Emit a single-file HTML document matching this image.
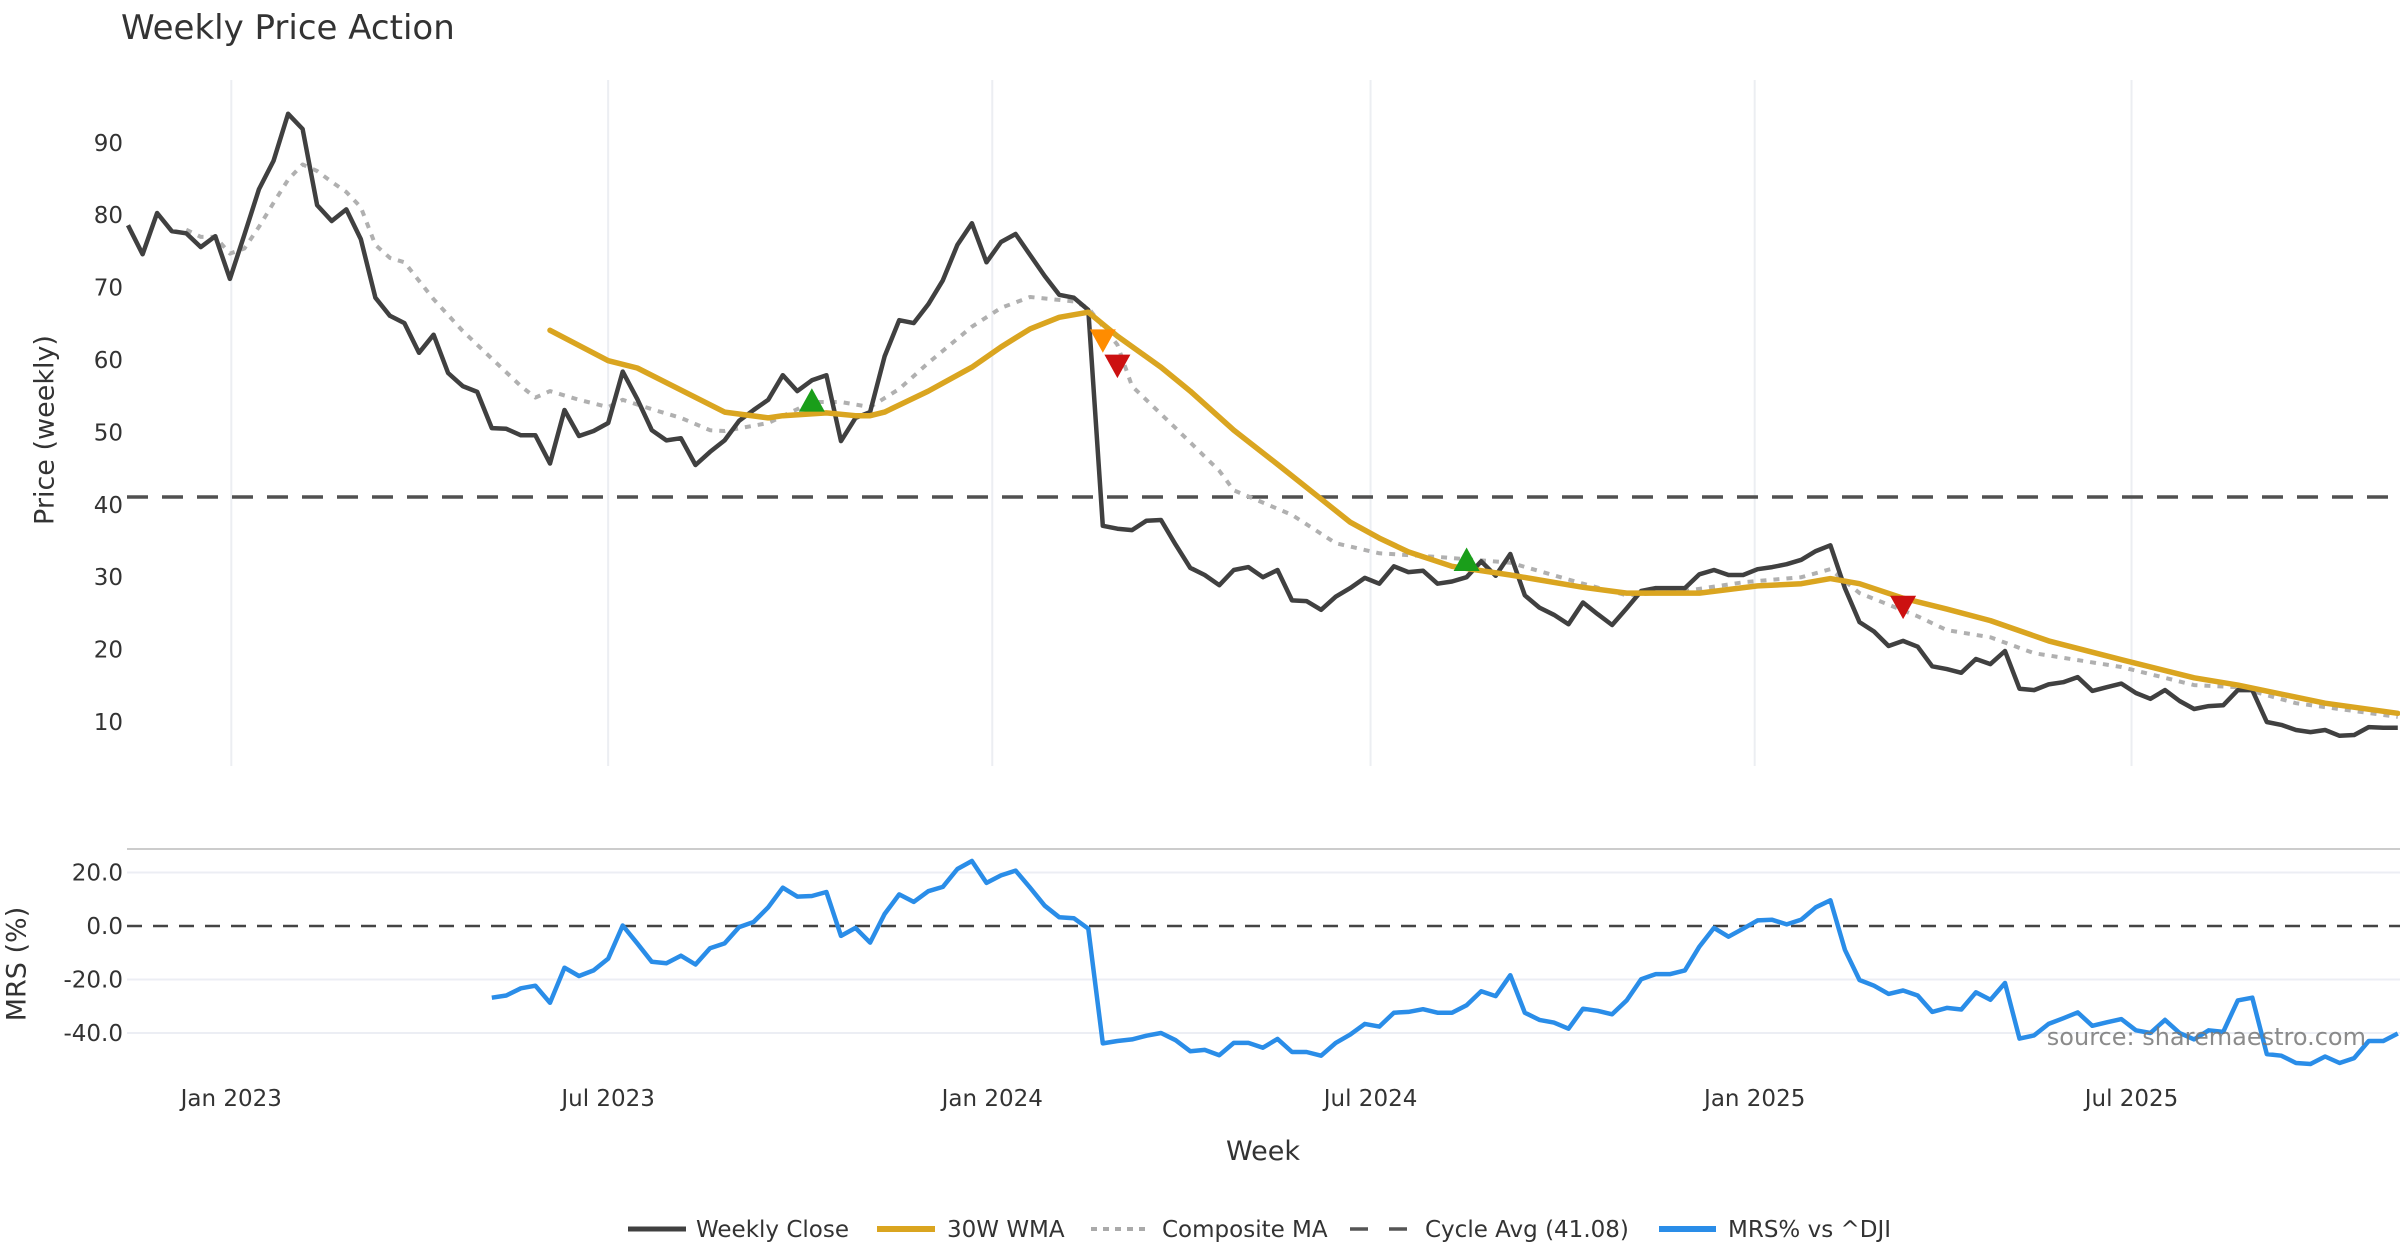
<!DOCTYPE html>
<html><head><meta charset="utf-8"><style>
html,body{margin:0;padding:0;background:#fff;}
svg{display:block;font-family:"DejaVu Sans","Liberation Sans",sans-serif;}
</style></head><body>
<svg id="chart" width="2400" height="1260" viewBox="0 0 2400 1260" xmlns="http://www.w3.org/2000/svg">
<rect x="0" y="0" width="2400" height="1260" fill="#fff"/>
<text x="121" y="39" font-size="34" fill="#333">Weekly Price Action</text>
<g id="grid"></g>
<g id="price"></g>
<g id="mrs"></g>
<g id="axes"></g>
<text x="46" y="430" font-size="27" fill="#333" text-anchor="middle" dominant-baseline="middle" transform="rotate(-90 46 430)">Price (weekly)</text>
<text x="18" y="964" font-size="27" fill="#333" text-anchor="middle" dominant-baseline="middle" transform="rotate(-90 18 964)">MRS (%)</text>
<text x="1263" y="1160" font-size="27" fill="#333" text-anchor="middle">Week</text>
<text x="2366" y="1045" font-size="24" fill="#777" fill-opacity="0.85" text-anchor="end">source: sharemaestro.com</text>
<g id="legend" font-size="23" fill="#333">
  <g><line x1="628" y1="1229" x2="686" y2="1229" stroke="#404040" stroke-width="5"/><text x="696" y="1237">Weekly Close</text></g>
  <g><line x1="877" y1="1229" x2="935" y2="1229" stroke="#DAA520" stroke-width="6"/><text x="947" y="1237">30W WMA</text></g>
  <g><line x1="1091" y1="1229" x2="1148" y2="1229" stroke="#aaa" stroke-width="4" stroke-dasharray="6,6"/><text x="1162" y="1237">Composite MA</text></g>
  <g><line x1="1350" y1="1229" x2="1407" y2="1229" stroke="#555" stroke-width="3.5" stroke-dasharray="18,21"/><text x="1425" y="1237">Cycle Avg (41.08)</text></g>
  <g><line x1="1659" y1="1229" x2="1716" y2="1229" stroke="#2a8de8" stroke-width="6"/><text x="1728" y="1237">MRS% vs ^DJI</text></g>
</g>
</svg>
<script>
const closeValues=[78.6,74.6,80.3,77.8,77.5,75.6,77.1,71.2,77.3,83.6,87.5,94,91.9,81.4,79.2,80.8,76.7,68.6,66.1,65.1,61,63.5,58.2,56.4,55.6,50.6,50.5,49.6,49.6,45.7,53.1,49.5,50.2,51.3,58.4,54.6,50.3,48.9,49.2,45.5,47.3,48.9,51.6,53.1,54.5,57.9,55.7,57.2,57.9,48.8,52,52.8,60.5,65.5,65.1,67.7,71,75.9,78.9,73.5,76.3,77.4,74.5,71.6,69,68.6,66.9,37.1,36.7,36.5,37.8,37.9,34.5,31.3,30.3,28.9,31,31.4,30,31,26.8,26.7,25.5,27.3,28.5,29.9,29.1,31.5,30.7,30.9,29.1,29.4,30,32.2,30.2,33.2,27.5,25.8,24.8,23.5,26.5,24.9,23.4,25.7,28.1,28.5,28.5,28.5,30.4,31,30.3,30.3,31.1,31.4,31.8,32.4,33.6,34.4,28.5,23.8,22.5,20.5,21.2,20.4,17.7,17.3,16.8,18.7,18,19.8,14.6,14.4,15.2,15.5,16.2,14.3,14.8,15.3,14,13.2,14.4,12.9,11.8,12.2,12.3,14.4,14.4,10,9.6,8.9,8.6,8.9,8.1,8.2,9.3,9.2,9.2];
const wmaWeeks=[29,33,35,41,44,45,48,50,51,52,55,58,60,62,64,66,68,71,73,76,79,82,84,86,88,91,95,100,103,108,112,115,117,119,122,125,128,132,137,142,145,151,156];
const wmaValues=[64.1,59.9,58.9,52.8,52,52.3,52.7,52.3,52.3,52.8,55.7,59,61.8,64.3,65.9,66.6,63.3,59,55.7,50.3,45.6,40.8,37.6,35.4,33.5,31.5,30.3,28.6,27.8,27.8,28.8,29.1,29.8,29.1,27.1,25.6,24,21.2,18.6,16.1,15.1,12.6,11.2];
const compWeeks=[4,5,6,7,8,9,10,11,12,13,14,15,16,17,18,19,21,23,25,27,28,29,31,33,34,36,38,40,41,44,46,47,49,51,53,55,58,60,62,65,66,68,69,72,75,76,80,83,86,90,95,100,103,107,111,115,117,119,123,125,128,131,137,142,145,149,156];
const compValues=[78,77,77,74.7,75.4,78.4,81.7,84.9,87,86.1,84.6,83.2,81.1,75.9,74.1,73.5,68.4,64,60.2,56.4,54.8,55.7,54.5,53.5,54.5,53.2,52,50.3,50.2,51.3,53.2,54.2,54.2,53.5,56,59.6,64.6,67.2,68.7,68.1,67.2,62.1,56.4,50.6,44.7,42,38.6,34.7,33.3,32.8,32,29.1,27.5,28.1,29.3,30,31.1,27.8,24.6,22.7,21.7,19.5,17.6,15.1,14.8,12.6,10.7];
const mrsStart=25;
const mrsValues=[-26.8,-26,-23.3,-22.3,-28.7,-15.6,-18.7,-16.6,-12.2,0.2,-6.5,-13.4,-13.9,-11.1,-14.4,-8.3,-6.5,-0.4,1.5,7,14.3,11,11.2,12.7,-3.7,-0.7,-6.2,4.5,11.8,9,13,14.6,21.3,24.3,16.1,18.9,20.7,14.3,7.6,3.3,2.9,-1,-43.9,-43,-42.4,-41,-40,-42.7,-46.8,-46.3,-48.3,-43.7,-43.7,-45.5,-42.2,-47.1,-47.1,-48.5,-43.7,-40.6,-36.6,-37.6,-32.4,-32.1,-31.1,-32.4,-32.4,-29.6,-24.4,-26.2,-18.4,-32.4,-35.1,-36.1,-38.4,-30.9,-31.7,-33,-27.8,-19.9,-18,-18,-16.6,-7.7,-0.7,-4,-1,2.1,2.3,0.6,2.4,7,9.6,-8.9,-20.2,-22.3,-25.4,-24.1,-26,-32.1,-30.6,-31.2,-24.8,-27.6,-21.3,-42.1,-40.9,-36.6,-34.5,-32.3,-37.3,-36,-34.8,-39,-40,-35.1,-40,-42.4,-39,-39.6,-27.8,-26.8,-47.9,-48.5,-51.2,-51.6,-48.8,-51.2,-49.4,-43,-43,-40.2];
const buyWeeks=[47,92];
const buyValues=[54.3,32.3];
const warnWeeks=[67];
const warnValues=[62.8];
const sellWeeks=[68,122];
const sellValues=[59.3,26];
const cycleAvg=41.08;
const priceTicks=[10,20,30,40,50,60,70,80,90];
const mrsTicks=[20,0,-20,-40];
const mrsTickLabels=["20.0","0.0","-20.0","-40.0"];
const dateTickLabels=["Jan 2023","Jul 2023","Jan 2024","Jul 2024","Jan 2025","Jul 2025"];
const dateTickWeeks=[7.1,33,59.4,85.4,111.8,137.7];

const NS="http://www.w3.org/2000/svg";
const X0=128,DX=14.55;
function xs(i){return X0+i*DX;}
function yp(v){return 722-(v-10)*7.24;}
function ym(v){return 926-v*2.675;}
function mk(tag,attrs,parent){const e=document.createElementNS(NS,tag);for(const k in attrs)e.setAttribute(k,attrs[k]);parent.appendChild(e);return e;}
const grid=document.getElementById('grid'),price=document.getElementById('price'),mrs=document.getElementById('mrs'),axes=document.getElementById('axes');

dateTickWeeks.forEach((w,k)=>{
  const l=mk('line',{x1:xs(w),x2:xs(w),y1:80,y2:766,stroke:'#eceef2','stroke-width':2},grid);
  
  
  const t=mk('text',{x:xs(w),y:1106,'font-size':23,fill:'#333','text-anchor':'middle'},axes);
  t.textContent=dateTickLabels[k];
  
  
});
priceTicks.forEach(v=>{
  const t=mk('text',{x:123,y:yp(v)+8,'font-size':23,fill:'#333','text-anchor':'end'},axes);
  t.textContent=String(v);
  
  
});
const sep=mk('line',{x1:127,x2:2400,y1:849,y2:849,stroke:'#ccc','stroke-width':2},grid);


mrsTicks.forEach((v,k)=>{
  if(v!==0){const g=mk('line',{x1:127,x2:2400,y1:ym(v),y2:ym(v),stroke:'#eceef4','stroke-width':2},grid);
  
  }
  const t=mk('text',{x:123,y:ym(v)+8,'font-size':23,fill:'#333','text-anchor':'end'},axes);
  t.textContent=mrsTickLabels[k];
  
  
});
function poly(pts,style,parent,name){
  const p=mk('polyline',Object.assign({points:pts.map(q=>q[0].toFixed(1)+','+q[1].toFixed(1)).join(' '),fill:'none','stroke-linejoin':'round'},style),parent);
  
  
  return p;
}
const ca=mk('line',{x1:127,x2:2400,y1:yp(cycleAvg),y2:yp(cycleAvg),stroke:'#505050','stroke-width':3.5,'stroke-dasharray':'21,14'},price);


poly(compWeeks.map((w,k)=>[xs(w),yp(compValues[k])]),{stroke:'#b0b0b0','stroke-width':4,'stroke-dasharray':'6,7'},price,'composite-ma-line');
poly(closeValues.map((v,i)=>[xs(i),yp(v)]),{stroke:'#404040','stroke-width':4.5},price,'weekly-close-line');
poly(wmaWeeks.map((w,k)=>[xs(w),yp(wmaValues[k])]),{stroke:'#DAA520','stroke-width':5.5,'stroke-linecap':'round'},price,'wma-30w-line');
function tri(w,v,up,color,name){
  const x=xs(w),y=yp(v),s=13;
  const pts=up?[[x-s,y+s*0.8],[x+s,y+s*0.8],[x,y-s*1.0]]:[[x-s,y-s*0.8],[x+s,y-s*0.8],[x,y+s*1.0]];
  const p=mk('polygon',{points:pts.map(q=>q.join(',')).join(' '),fill:color},price);
  
  
}
buyWeeks.forEach((w,k)=>tri(w,buyValues[k],true,'#1a9e1a','buy-signal-marker'));
warnWeeks.forEach((w,k)=>tri(w,warnValues[k],false,'#ff8c00','warning-signal-marker'));
sellWeeks.forEach((w,k)=>tri(w,sellValues[k],false,'#cc1111','sell-signal-marker'));
const z=mk('line',{x1:127,x2:2400,y1:ym(0),y2:ym(0),stroke:'#444','stroke-width':2.5,'stroke-dasharray':'15,11'},mrs);


poly(mrsValues.map((v,k)=>[xs(k+mrsStart),ym(v)]),{stroke:'#2a8de8','stroke-width':4.5},mrs,'mrs-line');
</script>
</body></html>
